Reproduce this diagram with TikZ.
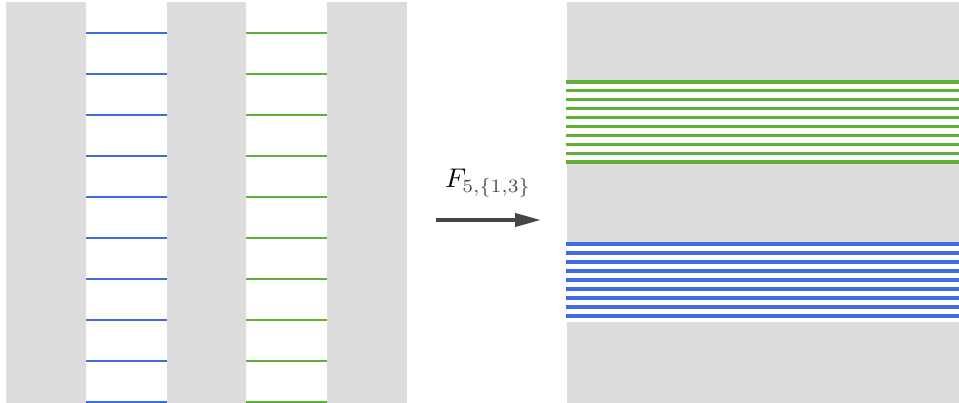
\documentclass[tikz,border=0pt]{standalone}
\usepackage{graphicx}
\usetikzlibrary{arrows.meta}
\definecolor{bandgrey}{RGB}{220,220,220}
\definecolor{lblue}{RGB}{65,105,225}
\definecolor{lgreen}{RGB}{96,176,56}
\definecolor{arrowgrey}{RGB}{70,70,70}
\tikzset{
  band/.style={fill=bandgrey, draw=none},
  bline/.style={draw=lblue, line width=2pt},
  gline/.style={draw=lgreen, line width=2pt},
  rbline/.style={draw=lblue, line width=3.4pt},
  rgline/.style={draw=lgreen, line width=3.2pt},
  maparrow/.style={draw=arrowgrey, line width=4pt, -{Triangle[length=26pt,width=13pt]}},
}
\begin{document}
\begin{tikzpicture}[x=1pt,y=-1pt]
\useasboundingbox (0,0) rectangle (959,403);
\begin{scope}
\clip (0,0) rectangle (959,403);
% left panel
\fill[band] (6,2) rectangle (86,403);
\fill[band] (167,2) rectangle (246,403);
\fill[band] (327,2) rectangle (407,403);
\foreach \k in {0,...,9} {
  \draw[bline] (86,33+41*\k) -- (167,33+41*\k);
  \draw[gline] (246,33+41*\k) -- (327,33+41*\k);
}
% right panel
\fill[band] (567,2) rectangle (959,82);
\fill[band] (567,162.5) rectangle (959,242.5);
\fill[band] (567,322.5) rectangle (959,403);
\foreach \k in {0,...,9} {
  \draw[rgline] (566,82+80/9*\k) -- (959,82+80/9*\k);
}
\foreach \k in {0,...,8} {
  \draw[rbline] (566,244+9*\k) -- (959,244+9*\k);
}
\end{scope}
% map arrow
\coordinate (a0) at (436,220);
\coordinate (a1) at (541,220);
\draw[maparrow] (a0) -- (a1);
\node[inner sep=0pt] (lab) at (488,183) {\scalebox{2.7}{$F_{\color{black!70}5,\{1,3\}}$}};
\end{tikzpicture}
\end{document}
